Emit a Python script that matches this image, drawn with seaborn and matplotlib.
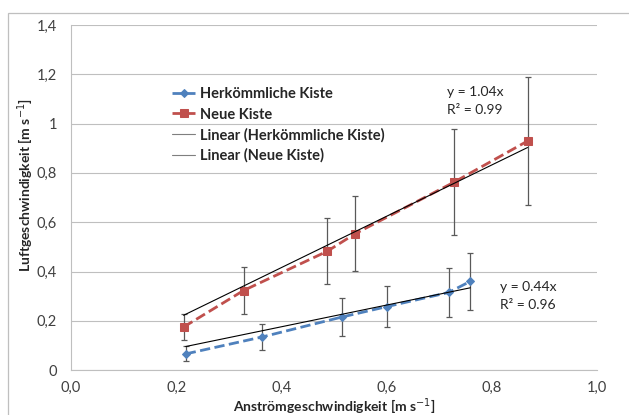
import numpy as np
import pandas as pd
import seaborn as sns
import matplotlib.pyplot as plt
from matplotlib.patches import Rectangle

# =========================
# Data
# =========================
x_herk = [0.218, 0.364, 0.516, 0.601, 0.718, 0.759]
y_herk = [0.066, 0.135, 0.216, 0.258, 0.315, 0.360]
err_lo_herk = [0.030, 0.053, 0.078, 0.083, 0.099, 0.114]
err_hi_herk = [0.031, 0.053, 0.075, 0.084, 0.098, 0.114]

x_neu = [0.214, 0.328, 0.487, 0.540, 0.728, 0.868]
y_neu = [0.175, 0.323, 0.482, 0.553, 0.762, 0.929]
err_lo_neu = [0.053, 0.095, 0.134, 0.151, 0.214, 0.259]
err_hi_neu = [0.052, 0.094, 0.134, 0.154, 0.215, 0.260]

slope_herk = 0.44
slope_neu = 1.04

x_ticks = [0.0, 0.2, 0.4, 0.6, 0.8, 1.0]
x_ticklabels = ['0,0', '0,2', '0,4', '0,6', '0,8', '1,0']
y_ticks = [0, 0.2, 0.4, 0.6, 0.8, 1.0, 1.2, 1.4]
y_ticklabels = ['0', '0,2', '0,4', '0,6', '0,8', '1', '1,2', '1,4']

blue = '#4F81BD'
red = '#C0504D'

sns.set_style('white')
plt.rcParams['font.family'] = ['Lato', 'DejaVu Sans']

df_herk = pd.DataFrame({'x': x_herk, 'y': y_herk})
df_neu = pd.DataFrame({'x': x_neu, 'y': y_neu})

fit_herk = pd.DataFrame({'x': [min(x_herk), max(x_herk)]})
fit_herk['y'] = slope_herk * fit_herk['x']
fit_neu = pd.DataFrame({'x': [min(x_neu), max(x_neu)]})
fit_neu['y'] = slope_neu * fit_neu['x']

fig = plt.figure(figsize=(6.29, 4.15), dpi=100)
ax = fig.add_axes([0.113, 0.108, 0.836, 0.832])

# chart border
fig.patches.append(Rectangle((8 / 629, -0.1), 1.2, 1 - 13 / 415 + 0.1,
                             transform=fig.transFigure, fill=False,
                             edgecolor='#BFBFBF', linewidth=0.9))

# error bars
ax.errorbar(x_herk, y_herk, yerr=[err_lo_herk, err_hi_herk], fmt='none',
            ecolor='#595959', elinewidth=0.9, capsize=2, capthick=0.9, zorder=2)
ax.errorbar(x_neu, y_neu, yerr=[err_lo_neu, err_hi_neu], fmt='none',
            ecolor='#595959', elinewidth=0.9, capsize=2, capthick=0.9, zorder=2)

# series
sns.lineplot(data=df_herk, x='x', y='y', ax=ax, color=blue, linestyle='--',
             linewidth=2, marker='D', markersize=4, markeredgecolor=blue,
             label='Herkömmliche Kiste', zorder=3)
sns.lineplot(data=df_neu, x='x', y='y', ax=ax, color=red, linestyle='--',
             linewidth=2, marker='s', markersize=6, markeredgecolor=red,
             label='Neue Kiste', zorder=3)

# trend lines
sns.lineplot(data=fit_herk, x='x', y='y', ax=ax, color='black', linewidth=0.8,
             label='Linear (Herkömmliche Kiste)', zorder=4)
sns.lineplot(data=fit_neu, x='x', y='y', ax=ax, color='black', linewidth=0.8,
             label='Linear (Neue Kiste)', zorder=4)

ax.text(0.715, 1.128, 'y = 1.04x', fontsize=10, va='center', color='#262626')
ax.text(0.715, 1.055, 'R² = 0.99', fontsize=10, va='center', color='#262626')
ax.text(0.816, 0.337, 'y = 0.44x', fontsize=10, va='center', color='#262626')
ax.text(0.816, 0.264, 'R² = 0.96', fontsize=10, va='center', color='#262626')

ax.set_xlim(0, 1.0)
ax.set_ylim(0, 1.4)
ax.set_xticks(x_ticks)
ax.set_xticklabels(x_ticklabels)
ax.set_yticks(y_ticks)
ax.set_yticklabels(y_ticklabels)
ax.tick_params(axis='both', labelsize=10.5, colors='#595959', labelcolor='#404040',
               length=4, width=0.8, direction='out')
ax.tick_params(axis='x', pad=4)
ax.tick_params(axis='y', pad=6)
ax.yaxis.grid(True, color='#BFBFBF', linewidth=0.8)
ax.set_axisbelow(True)
for side in ['top', 'right']:
    ax.spines[side].set_visible(False)
for side in ['left', 'bottom']:
    ax.spines[side].set_color('#BFBFBF')
    ax.spines[side].set_linewidth(0.8)

ax.set_xlabel('Anströmgeschwindigkeit [m s$^{-1}$]', fontsize=10,
              fontweight='bold')
ax.xaxis.set_label_coords(0.5, -0.076)
ax.set_ylabel('Luftgeschwindigkeit [m s$^{-1}$]', fontsize=10,
              fontweight='bold')
ax.yaxis.set_label_coords(-0.066, 0.536)

leg = ax.legend(loc='upper left', bbox_to_anchor=(0.178, 0.84), frameon=False,
                prop={'size': 10.5, 'weight': 'bold'}, handlelength=1.6,
                handletextpad=0.3, labelspacing=0.42, borderpad=0)
for t in leg.get_texts():
    t.set_color('#262626')
for h in leg.get_lines()[2:]:
    h.set_color('#7F7F7F')

fig.savefig('out.png', dpi=100)
